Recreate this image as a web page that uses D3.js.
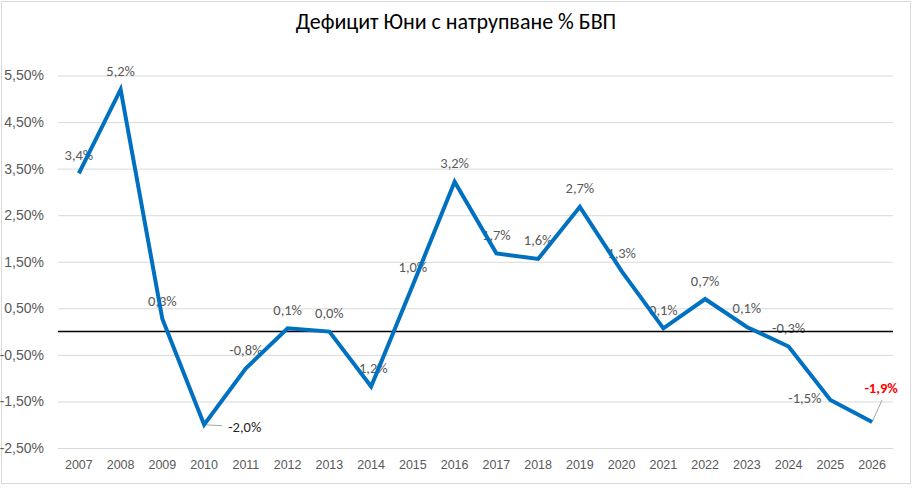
<!DOCTYPE html>
<html>
<head>
<meta charset="utf-8">
<script src="https://cdn.jsdelivr.net/npm/d3@7"></script>
<style>
  body { margin: 0; background: #fff; }
  svg { display: block; font-family: Carlito, Calibri, 'Liberation Sans', sans-serif; }
</style>
</head>
<body>
<svg></svg>
<script>
const years = ['2007','2008','2009','2010','2011','2012','2013','2014','2015','2016',
               '2017','2018','2019','2020','2021','2022','2023','2024','2025','2026'];
const values = [3.4, 5.2, 0.27, -2.0, -0.79, 0.07, 0.0, -1.18, 1.0, 3.22,
                1.68, 1.56, 2.68, 1.3, 0.07, 0.7, 0.1, -0.32, -1.47, -1.94];
const yTicks = [5.5, 4.5, 3.5, 2.5, 1.5, 0.5, -0.5, -1.5, -2.5];
const title = 'Дефицит Юни с натрупване % БВП';

const width = 912;
const height = 488;
// plot box
const margin = {top: 75.5, bottom: 40, left: 58, right: 19};

const svg = d3.select('svg')
    .attr('width', width)
    .attr('height', height);

// chart border
svg.append('rect')
    .attr('x', 1.5).attr('y', 1.5)
    .attr('width', 909).attr('height', 482)
    .attr('fill', '#fff')
    .attr('stroke', '#d9d9d9');

const x = d3.scaleBand()
    .domain(years)
    .range([margin.left, width - margin.right]);

const y = d3.scaleLinear()
    .domain([-2.5, 5.5])
    .range([height - margin.bottom, margin.top]);

// excel style: decimal comma, plain hyphen minus
const comma = v => v.replace('.', ',').replace('\u2212', '-');
const fmtTick = v => comma(d3.format('.2f')(v)) + '%';
const fmtLabel = v => comma(d3.format('.1f')(v)) + '%';

svg.append('text')
    .attr('x', width / 2)
    .attr('y', 21)
    .attr('text-anchor', 'middle')
    .attr('dominant-baseline', 'central')
    .attr('font-size', 22)
    .attr('fill', '#000')
    .text(title);

// gridlines + y labels
const yAxis = d3.axisLeft(y)
    .tickValues(yTicks)
    .tickFormat(fmtTick)
    .tickSize(-(width - margin.left - margin.right))
    .tickPadding(14);

const gy = svg.append('g')
    .attr('transform', `translate(${margin.left},0)`)
    .call(yAxis);
gy.select('.domain').remove();
gy.selectAll('.tick line').attr('stroke', '#d9d9d9');
gy.selectAll('.tick text')
    .attr('font-size', 14)
    .attr('fill', '#595959')
    .attr('font-family', null);

// x labels
const xAxis = d3.axisBottom(x).tickSize(0).tickPadding(12);
const gx = svg.append('g')
    .attr('transform', `translate(0,${height - margin.bottom})`)
    .call(xAxis);
gx.select('.domain').remove();
gx.selectAll('.tick text')
    .attr('font-size', 12.5)
    .attr('fill', '#595959')
    .attr('font-family', null);

const pts = years.map((yr, i) => ({
    yr, v: values[i],
    cx: x(yr) + x.bandwidth() / 2,
    cy: y(values[i])
}));

// labels that are not simply above the point
const special = {
    '2010': {dx: 24, dy: 2, anchor: 'start', fill: '#262626', leader: [0, 18, 1]},
    '2025': {dx: -9, dy: -2, anchor: 'end'},
    '2026': {dx: 9, dy: -34, anchor: 'middle', fill: '#ff0000', bold: true, leader: [0, 10, -22]}
};

const labels = svg.append('g');
pts.forEach(d => {
    const s = special[d.yr];
    if (s && s.leader) {
        labels.append('line')
            .attr('x1', d.cx + s.leader[0]).attr('y1', d.cy)
            .attr('x2', d.cx + s.leader[1]).attr('y2', d.cy + s.leader[2])
            .attr('stroke', '#a6a6a6')
            .attr('stroke-width', 1);
    }
    labels.append('text')
        .attr('x', d.cx + (s ? s.dx : 0))
        .attr('y', d.cy + (s ? s.dy : -18.5))
        .attr('text-anchor', s ? s.anchor : 'middle')
        .attr('dominant-baseline', 'central')
        .attr('font-size', 14.5)
        .attr('font-weight', s && s.bold ? 'bold' : 'normal')
        .attr('fill', s && s.fill ? s.fill : '#595959')
        .text(fmtLabel(d.v));
});

// zero line
svg.append('line')
    .attr('x1', margin.left).attr('x2', width - margin.right)
    .attr('y1', y(0)).attr('y2', y(0))
    .attr('stroke', '#000')
    .attr('stroke-width', 1.5);

const lineGen = d3.line()
    .x(d => d.cx)
    .y(d => d.cy);

svg.append('path')
    .datum(pts)
    .attr('d', lineGen)
    .attr('fill', 'none')
    .attr('stroke', '#0070c0')
    .attr('stroke-width', 4)
    .attr('stroke-linejoin', 'miter');
</script>
</body>
</html>
